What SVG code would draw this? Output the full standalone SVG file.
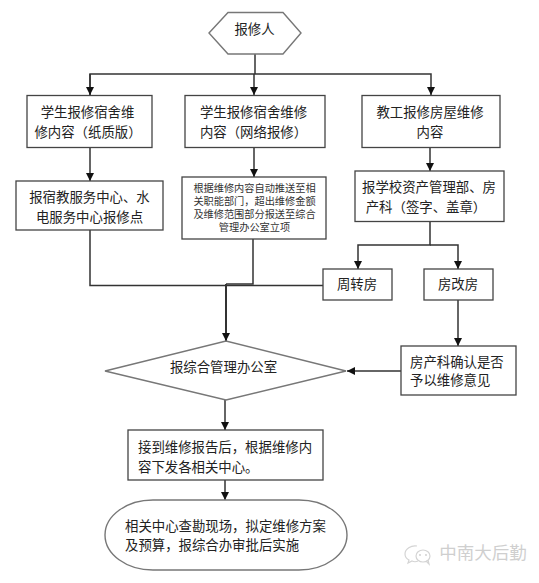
<svg xmlns="http://www.w3.org/2000/svg" width="539" height="583" viewBox="0 0 539 583">
<style>
text{font-family:"Noto Sans CJK SC","Liberation Sans",sans-serif;font-size:13.4px;fill:#222;text-anchor:middle}
.st{text-anchor:start}
.b{fill:#fff;stroke:#444;stroke-width:1.3}
.g{fill:#fff;stroke:#777;stroke-width:1.4}
text.s{font-family:"Liberation Sans","Noto Sans CJK SC",sans-serif;font-size:10.2px;fill:#333}
text.t{font-family:"Liberation Sans","Noto Sans CJK SC",sans-serif}
.l{fill:none;stroke:#333;stroke-width:1.5}
.w{fill:none;stroke:#d4d4d4;stroke-width:1.2}
</style>
<defs><marker id="a" markerUnits="userSpaceOnUse" markerWidth="9" markerHeight="8" refX="8" refY="4" orient="auto"><path d="M0 0L8 4L0 8z" fill="#111"/></marker></defs>
<rect width="539" height="583" fill="#fff"/>
<g id="connectors">
<path class="l" d="M255 54V74"/>
<path class="l" d="M90 95V74H431V95" marker-end="url(#a)"/>
<path class="l" d="M90 74V95" marker-end="url(#a)"/>
<path class="l" d="M254 74V95" marker-end="url(#a)"/>
<path class="l" d="M90 147V181" marker-end="url(#a)"/>
<path class="l" d="M254 147V177" marker-end="url(#a)"/>
<path class="l" d="M430 147V171" marker-end="url(#a)"/>
<path class="l" d="M90 230V285.500H323"/>
<path class="l" d="M253 239V284H226"/>
<path class="l" d="M226 284V341" marker-end="url(#a)" style="stroke-width:2"/>
<path class="l" d="M430 221V245H358V269" marker-end="url(#a)"/>
<path class="l" d="M430 245H458V269" marker-end="url(#a)"/>
<path class="l" d="M458 300V346" marker-end="url(#a)"/>
<path class="l" d="M401 371H347" marker-end="url(#a)"/>
<path class="l" d="M225 400V430" marker-end="url(#a)"/>
<path class="l" d="M225 480V500" marker-end="url(#a)"/>
</g>
<g id="n1"><path class="g" d="M209 33L228 12.500H283L301 33L283 54H228z"/><text x="254.500" y="34">报修人</text></g>
<g id="n2"><rect class="b" x="27" y="95.500" width="125" height="52"/><text x="87.500" y="117">学生报修宿舍维</text><text x="88" y="137">修内容（纸质版）</text></g>
<g id="n3"><rect class="b" x="185" y="95.500" width="140" height="52"/><text x="253.500" y="117">学生报修宿舍维修</text><text x="253.500" y="137">内容（网络报修）</text></g>
<g id="n4"><rect class="b" x="362" y="95.500" width="138" height="52"/><text x="430" y="117">教工报修房屋维修</text><text x="430" y="137">内容</text></g>
<g id="n5"><rect class="b" x="16" y="181" width="147" height="49"/><text x="89.500" y="202">报宿教服务中心、水</text><text x="89.500" y="222">电服务中心报修点</text></g>
<g id="n6"><rect class="b" x="182" y="177" width="144" height="62"/><text class="s" x="254.500" y="192">根据维修内容自动推送至相</text><text class="s" x="254.500" y="205">关职能部门，超出维修金额</text><text class="s" x="254.500" y="218">及维修范围部分报送至综合</text><text class="s" x="254.500" y="231">管理办公室立项</text></g>
<g id="n7"><rect class="b" x="355" y="171" width="149" height="50.500"/><text x="429" y="192">报学校资产管理部、房</text><text x="426" y="212">产科（签字、盖章）</text></g>
<g id="n8"><rect class="b" x="323" y="269" width="69" height="31"/><text x="357" y="289">周转房</text></g>
<g id="n9"><rect class="b" x="424" y="269" width="69" height="31"/><text x="458" y="289">房改房</text></g>
<g id="n10"><path class="g" d="M105 371L226 341L346 371L226 400z"/><text x="223.500" y="372">报综合管理办公室</text></g>
<g id="n11"><rect class="b" x="401" y="346" width="115" height="49"/><text class="st t" x="410" y="367">房产科确认是否</text><text class="st t" x="410" y="385">予以维修意见</text></g>
<g id="n12"><rect class="b" x="128" y="430" width="195" height="50"/><text class="st" x="138" y="452">接到维修报告后，根据维修内</text><text class="st" x="138" y="472">容下发各相关中心。</text></g>
<g id="n13"><rect class="g" x="105" y="500" width="242" height="70" rx="48" ry="35"/><text class="st t" x="125" y="531">相关中心查勘现场，拟定维修方案</text><text class="st t" x="125" y="550">及预算，报综合办审批后实施</text></g>
<g id="watermark"><path class="w" d="M417 546C411 545 405 549 405 554C405 557 407 559 409 560L408 563L412 561C414 562 416 562 418 561"/><ellipse class="w" cx="423" cy="556" rx="7" ry="6"/><path class="w" d="M426 561L429 564L428 560"/><circle cx="420" cy="555" r="0.900" fill="#ccc"/><circle cx="426" cy="555" r="0.900" fill="#ccc"/><text x="483" y="559" style="font-size:17.500px;fill:#cfcfcf">中南大后勤</text></g>
</svg>
